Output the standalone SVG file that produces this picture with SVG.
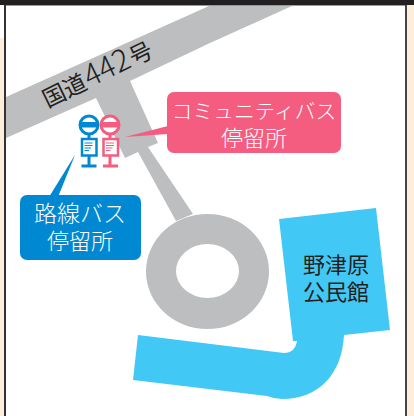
<svg xmlns="http://www.w3.org/2000/svg" width="414" height="416" viewBox="0 0 414 416">
<style>
text{font-family:"Noto Sans CJK JP","Noto Sans",sans-serif;text-anchor:middle}
.w{fill:#fff;font-size:22px;font-weight:300}
.k{fill:#231f20;font-size:22px}
.road{fill:#bcbec0}
.water{fill:#42c8f5}
.b{fill:#0088d2}
.p{fill:#f45c80}
.bl{fill:none;stroke:#0088d2}
.pl{fill:none;stroke:#f45c80}
</style>
<rect width="414" height="416" fill="#fdeedb"/>
<rect x="0" y="5" width="4" height="33" fill="#fff"/>
<rect x="5" y="5" width="400" height="411" fill="#fff"/>
<g id="road">
<path class="road" d="M6 97 L209 6 L292 6 L210 43 L130 81 L158 143 L148 147 L193 214 L176 221 L138 152 L125 158 L96 98 L6 138 Z"/>
<path class="road" fill-rule="evenodd" d="M146 271.500a61.500 57.500 0 1 0 123 0a61.500 57.500 0 1 0 -123 0ZM176 271a31.500 27 0 1 0 63 0a31.500 27 0 1 0 -63 0Z"/>
<text class="k" transform="translate(101 82) rotate(-26)" style="font-size:23px">国道<tspan dx="1" style="font-size:30px;font-weight:300">442</tspan><tspan dx="1">号</tspan></text>
</g>
<g id="frame">
<rect x="0" y="0" width="414" height="5" fill="#231f20"/>
<rect x="4" y="5" width="2" height="411" fill="#333"/>
<rect x="405" y="5" width="2" height="411" fill="#444"/>
<rect x="6" y="5" width="399" height="1" fill="#999"/>
</g>
<g id="kominkan">
<path class="water" d="M279 219 L376 208 L390 330 L344 335 C342 375 318 399 282 399 Q275 399 267 396 L133 380 L138 335 L284 353 Q295 353 297 341 L293 341 Z"/>
<text class="k" x="336" y="273">野津原</text>
<text class="k" x="336" y="300">公民館</text>
</g>
<g id="bus-blue">
<circle cx="89" cy="125" r="9" fill="#fff" stroke="#0088d2" stroke-width="3"/>
<rect x="80" y="122" width="18" height="5.500" fill="#0088d2"/>
<path class="bl" stroke-width="3" d="M89 135V138M89 156V166M81.500 166H96.500"/>
<rect class="bl" x="82" y="139" width="14.500" height="16.500" stroke-width="2.500"/>
<path class="bl" stroke-width="1.200" d="M84.500 143H92.500M84.500 145.500H92.500M84.500 148H91M84.500 150.500H89"/>
</g>
<g id="bus-pink">
<circle cx="110" cy="125" r="9" fill="#fff" stroke="#f45c80" stroke-width="3"/>
<rect x="101" y="122" width="18" height="5.500" fill="#f45c80"/>
<path class="pl" stroke-width="3" d="M110 135V138M110 156V166M103 166H118"/>
<rect class="pl" x="103.500" y="139" width="14.500" height="16.500" stroke-width="2.500"/>
<path class="pl" stroke-width="1.200" d="M106 143H114M106 145.500H114M106 148H112.500M106 150.500H110.500"/>
</g>
<g id="label-community">
<rect class="p" x="167" y="92" width="174" height="61" rx="7"/>
<path class="p" d="M125 137 L168 126 L168 134 Z"/>
<text class="w" x="254" y="119" style="font-size:20.700px">コミュニティバス</text>
<text class="w" x="254" y="146">停留所</text>
</g>
<g id="label-route">
<rect class="b" x="20" y="195" width="121" height="65" rx="7"/>
<path class="b" d="M75 155 L49 197 L58 197 Z"/>
<text class="w" x="80" y="222" style="font-size:23px">路線バス</text>
<text class="w" x="80" y="249">停留所</text>
</g>
</svg>
